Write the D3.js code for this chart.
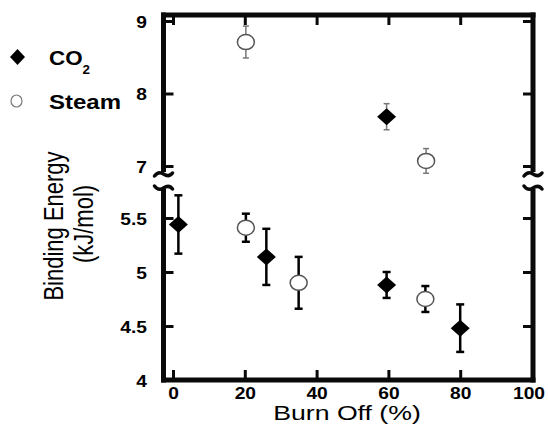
<!DOCTYPE html>
<html>
<head>
<meta charset="utf-8">
<script src="https://cdn.jsdelivr.net/npm/d3@7"></script>
<style>
    body { margin: 0; background: #fff; }
    text { font-family: 'Liberation Sans', Arial, sans-serif; }
</style>
</head>
<body>
<script>
// lower site (4 - 5.5 kJ/mol)
const co2BurnOff = [1.5, 26, 59.5, 80];
const co2Energy = [5.44, 5.14, 4.88, 4.48];
const co2Error = [0.27, 0.26, 0.12, 0.22];

const steamBurnOff = [20.3, 35, 70.3];
const steamEnergy = [5.41, 4.90, 4.75];
const steamError = [0.13, 0.24, 0.12];

// upper site (7 - 9 kJ/mol)
const co2HighBurnOff = [59.5];
const co2HighEnergy = [7.68];
const co2HighError = [0.18];

const steamHighBurnOff = [20.3, 70.5];
const steamHighEnergy = [8.71, 7.07];
const steamHighError = [0.22, 0.17];

const xTicks = [0, 20, 40, 60, 80, 100];
const yHighTicks = [7, 8, 9];
const yLowTicks = [4, 4.5, 5, 5.5];

const ink = '#0a0a0a';

const svg = d3.select('body').append('svg')
    .attr('width', 548)
    .attr('height', 427);

// frame geometry
const frameLeft = 163.5;
const frameRight = 533;
const frameTop = 15;
const frameBottom = 380;
const breakHigh = 172;
const breakLow = 189;
const sx = 1.2;

// scales
const x = d3.scaleLinear().domain([0, 100]).range([173, 532]);
const yHigh = d3.scaleLinear().domain([7, 9]).range([166, 21]);
const yLow = d3.scaleLinear().domain([4, 5.5]).range([380, 218]);

const zip = (bx, e, err) => bx.map((b, i) => ({ b: b, e: e[i], err: err[i] }));

const co2Low = zip(co2BurnOff, co2Energy, co2Error);
const steamLow = zip(steamBurnOff, steamEnergy, steamError);
const co2High = zip(co2HighBurnOff, co2HighEnergy, co2HighError);
const steamHigh = zip(steamHighBurnOff, steamHighEnergy, steamHighError);

// frame with broken side spines, drawn first as filled bars
const t = 5;
const spines = [
    [frameLeft - t / 2, frameTop - t / 2, frameRight - frameLeft + t, t],
    [frameLeft - t / 2, frameBottom - t / 2, frameRight - frameLeft + t, t],
    [frameLeft - t / 2, frameTop - t / 2, t, breakHigh - frameTop + t / 2],
    [frameLeft - t / 2, breakLow, t, frameBottom - breakLow + t / 2],
    [frameRight - t / 2, frameTop - t / 2, t, breakHigh - frameTop + t / 2],
    [frameRight - t / 2, breakLow, t, frameBottom - breakLow + t / 2]
];

svg.append('g')
    .selectAll('rect')
    .data(spines)
    .enter()
    .append('rect')
    .attr('x', d => d[0])
    .attr('y', d => d[1])
    .attr('width', d => d[2])
    .attr('height', d => d[3])
    .attr('fill', ink);

function styleAxis(g)
{
    g.select('.domain').remove();
    g.selectAll('.tick line')
        .attr('stroke', ink)
        .attr('stroke-width', 3);
    g.selectAll('.tick text')
        .attr('fill', '#000')
        .style('font-size', '16px')
        .style('font-weight', 'bold');
}

// x axes (ticks inward)
svg.append('g')
    .attr('transform', `translate(0, ${frameBottom})`)
    .call(d3.axisBottom(x).tickValues(xTicks.slice(0, 5)).tickSize(-10).tickFormat(d3.format('d')))
    .call(styleAxis)
    .call(g => g.selectAll('.tick text').attr('y', 19).attr('dy', 0).attr('transform', `scale(${sx}, 1)`));

svg.append('text')
    .attr('transform', `translate(${x(100) - 3}, ${frameBottom + 19}) scale(${sx}, 1)`)
    .attr('text-anchor', 'middle')
    .style('font-size', '16px')
    .style('font-weight', 'bold')
    .text(xTicks[5]);

svg.append('g')
    .attr('transform', `translate(0, ${frameTop})`)
    .call(d3.axisTop(x).tickValues(xTicks.slice(0, 5)).tickSize(-10).tickFormat(''))
    .call(styleAxis);

// y axes, one per panel
function leftAxis(scale, ticks)
{
    svg.append('g')
        .attr('transform', `translate(${frameLeft}, 0)`)
        .call(d3.axisLeft(scale).tickValues(ticks).tickSize(-10).tickFormat(d3.format('')))
        .call(styleAxis)
        .call(g => g.selectAll('.tick text')
            .attr('x', -16.5 / sx)
            .attr('y', 1.5)
            .attr('dy', '0.3em')
            .attr('transform', `scale(${sx}, 1)`));
}

function rightAxis(scale, ticks)
{
    svg.append('g')
        .attr('transform', `translate(${frameRight}, 0)`)
        .call(d3.axisRight(scale).tickValues(ticks).tickSize(-10).tickFormat(''))
        .call(styleAxis);
}

leftAxis(yHigh, yHighTicks);
leftAxis(yLow, yLowTicks);
rightAxis(yHigh, yHighTicks);
rightAxis(yLow, yLowTicks.slice(1));

// error bars
function errorBars(data, y, color, strokeWidth, cap)
{
    const g = svg.append('g');

    data.forEach(d =>
    {
        const segs = [
            [x(d.b), y(d.e + d.err), x(d.b), y(d.e - d.err)],
            [x(d.b) - cap, y(d.e + d.err), x(d.b) + cap, y(d.e + d.err)],
            [x(d.b) - cap, y(d.e - d.err), x(d.b) + cap, y(d.e - d.err)]
        ];
        segs.forEach(s =>
        {
            g.append('line')
                .attr('x1', s[0]).attr('y1', s[1])
                .attr('x2', s[2]).attr('y2', s[3])
                .attr('stroke', color)
                .attr('stroke-width', strokeWidth);
        });
    });
}

errorBars(co2Low, yLow, '#000', 2.5, 4);
errorBars(steamLow, yLow, '#000', 2.5, 4);
errorBars(co2High, yHigh, '#777', 1.5, 3);
errorBars(steamHigh, yHigh, '#777', 1.5, 3);

// markers
const diamond = 'M0,-8.5 L9.5,0 L0,8.5 L-9.5,0 Z';

function diamonds(data, y)
{
    svg.append('g')
        .selectAll('path')
        .data(data)
        .enter()
        .append('path')
        .attr('d', diamond)
        .attr('transform', d => `translate(${x(d.b)}, ${y(d.e)})`)
        .attr('fill', '#000');
}

function circles(data, y)
{
    svg.append('g')
        .selectAll('ellipse')
        .data(data)
        .enter()
        .append('ellipse')
        .attr('cx', d => x(d.b))
        .attr('cy', d => y(d.e))
        .attr('rx', 8.5)
        .attr('ry', 7.5)
        .attr('fill', '#fff')
        .attr('stroke', '#555')
        .attr('stroke-width', 1.5);
}

diamonds(co2Low, yLow);
diamonds(co2High, yHigh);
circles(steamLow, yLow);
circles(steamHigh, yHigh);

// break marks
const breaks = [
    [frameLeft, breakHigh + 1, 1], [frameLeft, breakLow, -1],
    [frameRight, breakHigh + 1, 1], [frameRight, breakLow, -1]
];

svg.append('g')
    .selectAll('path')
    .data(breaks)
    .enter()
    .append('path')
    .attr('transform', d => `translate(${d[0]}, ${d[1]}) scale(1, ${d[2]})`)
    .attr('d', 'M-9,3 C-6,-1 -3,-1 0,1 C3,3 6,4 9,0')
    .attr('fill', 'none')
    .attr('stroke', ink)
    .attr('stroke-width', 3.5)
    .attr('stroke-linecap', 'round');

// legend
svg.append('path')
    .attr('d', 'M0,-8 L7.5,0 L0,8 L-7.5,0 Z')
    .attr('transform', 'translate(17.5, 57)')
    .attr('fill', '#000');

svg.append('ellipse')
    .attr('cx', 16.5)
    .attr('cy', 101)
    .attr('rx', 5.5)
    .attr('ry', 6)
    .attr('fill', '#fff')
    .attr('stroke', '#777')
    .attr('stroke-width', 1.2);

const co2Label = svg.append('text')
    .attr('transform', 'translate(49, 65) scale(1.12, 1)')
    .style('font-size', '20px')
    .style('font-weight', 'bold');
co2Label.append('tspan').text('CO');
co2Label.append('tspan').attr('dy', 9).style('font-size', '12px').text('2');

svg.append('text')
    .attr('transform', `translate(49, 109) scale(${sx}, 1)`)
    .style('font-size', '20px')
    .style('font-weight', 'bold')
    .text('Steam');

// axis titles
svg.append('text')
    .attr('transform', 'translate(347, 420) scale(1.27, 1)')
    .attr('text-anchor', 'middle')
    .style('font-size', '21px')
    .text('Burn Off (%)');

svg.append('text')
    .attr('transform', 'translate(63, 226) rotate(-90) scale(1, 1.25)')
    .attr('text-anchor', 'middle')
    .style('font-size', '22px')
    .text('Binding Energy');

svg.append('text')
    .attr('transform', 'translate(93, 224) rotate(-90) scale(1, 1.25)')
    .attr('text-anchor', 'middle')
    .style('font-size', '22px')
    .text('(kJ/mol)');
</script>
</body>
</html>
